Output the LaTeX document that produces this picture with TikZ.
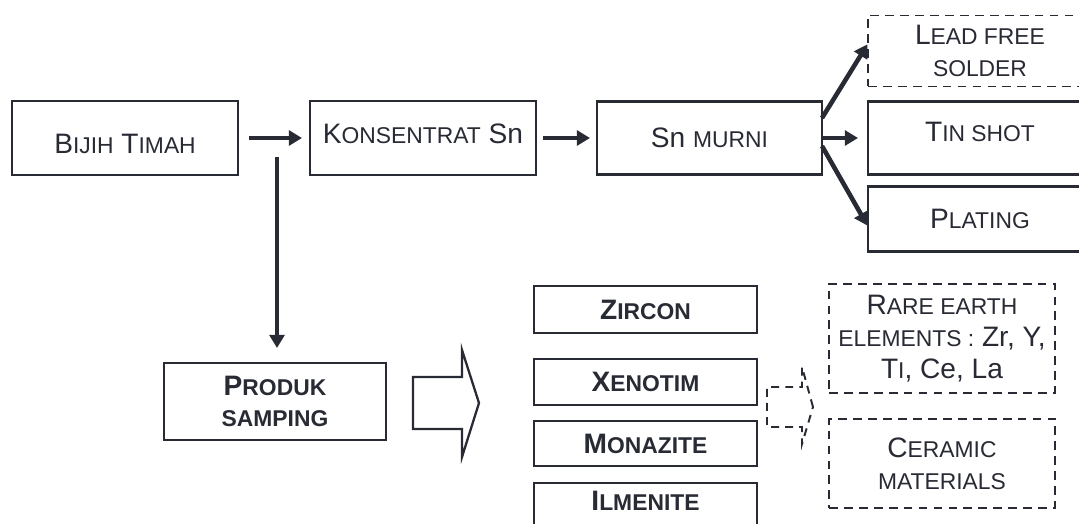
\documentclass[tikz,border=0pt]{standalone}
\usepackage{fontspec}
\setmainfont{Liberation Sans}
\usepackage{xcolor}
\usetikzlibrary{arrows.meta,positioning,calc}

\definecolor{ink}{RGB}{40,42,52}
\newcommand{\smc}[1]{{\fontsize{13}{18}\selectfont #1}}

\begin{document}
\begin{tikzpicture}[
		% Style definitions
		stagebox/.style={
			rectangle,
			draw=ink,
			line width=1.6pt,
			minimum width=4.5cm,
			minimum height=1.46cm,
			inner sep=2pt,
			outer sep=0pt,
			align=center,
			text=ink,
			font=\fontsize{16}{18}\selectfont
		},
		mineral/.style={stagebox, minimum width=4.46cm, minimum height=0.92cm, font=\fontsize{16}{18}\selectfont\bfseries},
		optbox/.style={stagebox, line width=1.1pt, dash pattern=on 5pt off 3.5pt},
		arrow/.style={
			-{Triangle[length=7.5pt,width=8.5pt]},
			line width=2.6pt,
			draw=ink
		},
		hollow/.style={draw=ink, line width=1.3pt, line join=miter},
		node distance=0.3cm
		]
		\clip (0,0) rectangle (21.58,-10.48);
		\fill[white] (0,0) rectangle (21.58,-10.48);

		% Main line
		\node[stagebox, minimum width=4.52cm, minimum height=1.48cm, text height=18pt] (bijih) at (2.50,-2.76) {B\smc{IJIH} T\smc{IMAH}};
		\node[stagebox, minimum width=4.52cm, minimum height=1.48cm, text depth=4.5pt, right=1.44cm of bijih] (konsentrat) {K\smc{ONSENTRAT} Sn};
		\node[stagebox, minimum height=1.46cm, right=1.22cm of konsentrat] (snmurni) {Sn \smc{MURNI}};

		% Tin products
		\node[stagebox, minimum width=4.48cm, text depth=7pt, right=0.92cm of snmurni] (tinshot) {T\smc{IN SHOT}};
		\node[optbox, minimum width=4.48cm, minimum height=1.42cm, above=0.30cm of tinshot] (leadfree) {L\smc{EAD FREE}\\\smc{SOLDER}};
		\node[stagebox, minimum width=4.48cm, minimum height=1.30cm, below=0.24cm of tinshot] (plating) {P\smc{LATING}};

		% By-products
		\node[stagebox, minimum width=4.44cm, minimum height=1.54cm, font=\fontsize{16}{18}\selectfont\bfseries] (produk) at (5.50,-8.03) {P\smc{RODUK}\\\smc{SAMPING}};
		\node[mineral, minimum height=0.94cm] (zircon) at (12.91,-6.19) {Z\smc{IRCON}};
		\node[mineral, below=0.52cm of zircon] (xenotim) {X\smc{ENOTIM}};
		\node[mineral, minimum height=0.90cm, below=0.32cm of xenotim] (monazite) {M\smc{ONAZITE}};
		\node[mineral, minimum height=0pt, inner ysep=0.17cm, text depth=0.3cm, below=0.34cm of monazite] (ilmenite) {I\smc{LMENITE}};

		% Further uses
		\node[optbox, minimum width=4.52cm, minimum height=2.18cm] (rareearth) at (18.84,-6.77) {R\smc{ARE EARTH}\\\smc{ELEMENTS :} Zr, Y,\\T\smc{I}, Ce, La};
		\node[optbox, minimum width=4.52cm, minimum height=1.78cm, below=0.52cm of rareearth] (ceramic) {C\smc{ERAMIC}\\\smc{MATERIALS}};

		% Connection arrows
		\draw[arrow, shorten <=0.22cm, shorten >=0.16cm] (bijih.east) -- (konsentrat.west);
		\draw[arrow, shorten <=0.14cm, shorten >=0.14cm] (konsentrat.east) -- (snmurni.west);
		\coordinate (split) at ($(bijih.east)!0.5!(konsentrat.west)+(0.06,-0.38)$);
		\draw[arrow, shorten >=0.30cm] (split) -- (split |- produk.north);
		\draw[arrow, shorten >=0.02cm] ([yshift=0.40cm]snmurni.east) -- ([yshift=0.15cm]leadfree.west);
		\draw[arrow, shorten >=0.20cm] (snmurni.east) -- (tinshot.west);
		\draw[arrow, shorten >=0.02cm] ([yshift=-0.16cm]snmurni.east) -- ([yshift=-0.15cm]plating.west);

		% Block arrows
		\coordinate (bigtip) at (9.58,-8.06);
		\draw[hollow] (bigtip) -- ++(-0.34,1.06) -- ++(0,-0.54) -- ++(-0.98,0) -- ++(0,-1.04) -- ++(0.98,0) -- ++(0,-0.56) -- cycle;
		\coordinate (smalltip) at (16.26,-8.14);
		\draw[hollow, line width=1.1pt, dash pattern=on 4.5pt off 3.5pt] (smalltip) -- ++(-0.22,0.80) -- ++(0,-0.40) -- ++(-0.70,0) -- ++(0,-0.80) -- ++(0.70,0) -- ++(0,-0.34) -- cycle;

	\end{tikzpicture}
\end{document}
